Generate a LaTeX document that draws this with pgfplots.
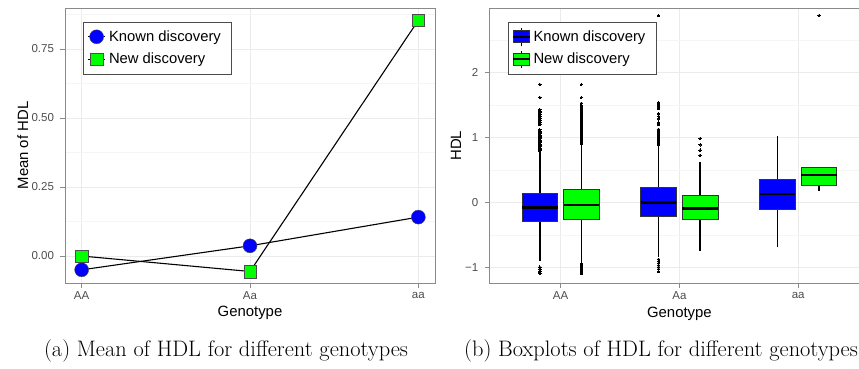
\documentclass[border=0pt]{standalone}
\usepackage{pgfplots}
\pgfplotsset{compat=1.18}
\usepgfplotslibrary{statistics}
\usepackage{fontspec}
\newfontfamily\sansf{Liberation Sans}
\definecolor{tickgray}{HTML}{4D4D4D}
\definecolor{bordergray}{HTML}{8A8A8A}
\definecolor{gridmaj}{HTML}{EBEBEB}
\definecolor{gridmin}{HTML}{F5F5F5}
\pgfplotsset{
  ggstyle/.style={
    scale only axis,
    axis line style={bordergray, line width=0.9pt},
    tick style={bordergray, line width=0.9pt},
    major tick length=4.5pt,
    tick align=outside,
    xtick pos=bottom, ytick pos=left,
    grid=both,
    major grid style={gridmaj, line width=0.9pt},
    minor grid style={gridmin, line width=0.6pt},
    minor tick length=0pt,
    tick label style={font=\fontsize{11.5}{13}\sansf, text=tickgray},
    xticklabel style={anchor=center, yshift=-8pt},
    yticklabel style={anchor=east, xshift=-3pt},
    /pgf/number format/assume math mode=true,
    legend cell align=left,
    legend style={draw=black!70, line width=0.8pt, font=\fontsize{14.8}{17}\sansf,
      anchor=north west, inner xsep=3.5pt, inner ysep=4pt, row sep=1pt,
      nodes={inner xsep=3pt, inner ysep=4.6pt}},
  }
}
\begin{document}
\begin{tikzpicture}
% ---------- (a) means ----------
\begin{axis}[ggstyle,
  at={(65pt,360pt)}, anchor=north west,
  width=370pt, height=275pt,
  xmin=-0.099, xmax=2.099, ymin=-0.0978, ymax=0.8986,
  xtick={0,1,2}, xticklabels={AA,Aa,aa},
  ytick={0,0.25,0.5,0.75}, yticklabels={0.00,0.25,0.50,0.75},
  minor ytick={0.125,0.375,0.625,0.875},
  xlabel={Genotype}, ylabel={Mean of HDL},
  every axis x label/.style={at={(axis description cs:0.5,-0.1102)}, anchor=center, font=\fontsize{14.9}{17}\sansf},
  every axis y label/.style={at={(axis description cs:-0.1143,0.5)}, anchor=center, rotate=90, font=\fontsize{14.9}{17}\sansf},
  legend style={at={(axis description cs:0.0495,0.9502)}},
  legend image code/.code={\draw[mark repeat=2, mark phase=2, #1] plot coordinates {(0pt,0pt) (8.85pt,0pt) (17.7pt,0pt)};},
]
\addplot[black, line width=1.1pt, mark=*, mark size=7pt,
  mark options={fill=blue, draw=black!70, line width=0.4pt}]
  coordinates {(0,-0.050) (1,0.037) (2,0.141)};
\addlegendentry{\makebox[116pt][l]{Known discovery}}
\addplot[black, line width=1.1pt, mark=square*, mark size=6.3pt,
  mark options={fill=green, draw=black!70, line width=0.4pt}]
  coordinates {(0,0.000) (1,-0.056) (2,0.854)};
\addlegendentry{\makebox[116pt][l]{New discovery}}
\end{axis}
% ---------- (b) boxplots ----------
\begin{axis}[ggstyle,
  at={(489.3pt,359.7pt)}, anchor=north west,
  width=380.2pt, height=275pt,
  xmin=-0.6, xmax=2.6, ymin=-1.24, ymax=2.99,
  xtick={0,1,2}, xticklabels={AA,Aa,aa},
  ytick={-1,0,1,2}, yticklabels={−1,0,1,2},
  minor ytick={-0.5,0.5,1.5,2.5},
  xlabel={Genotype}, ylabel={HDL},
  every axis x label/.style={at={(axis description cs:0.5,-0.1102)}, anchor=center, font=\fontsize{14.9}{17}\sansf},
  every axis y label/.style={at={(axis description cs:-0.0876,0.5)}, anchor=center, rotate=90, font=\fontsize{14.9}{17}\sansf},
  legend style={at={(axis description cs:0.0500,0.9513)}},
  boxplot/draw direction=y,
  boxplot/every whisker/.style={black, line width=1.5pt},
  boxplot/every median/.style={black, line width=2.4pt},
  boxplot/whisker extend=0,
]
\addlegendimage{legend image code/.code={
  \draw[black, line width=1pt] (8.35pt,-8.7pt) -- (8.35pt,8.7pt);
  \draw[fill=blue, draw=black!80, line width=0.9pt] (0pt,-6pt) rectangle (16.7pt,6pt);
  \draw[black, line width=1.6pt] (0pt,0pt) -- (16.7pt,0pt);}}
\addlegendentry{\makebox[116pt][l]{Known discovery}}
\addlegendimage{legend image code/.code={
  \draw[black, line width=1pt] (8.35pt,-8.7pt) -- (8.35pt,8.7pt);
  \draw[fill=green, draw=black!80, line width=0.9pt] (0pt,-6pt) rectangle (16.7pt,6pt);
  \draw[black, line width=1.6pt] (0pt,0pt) -- (16.7pt,0pt);}}
\addlegendentry{\makebox[116pt][l]{New discovery}}
% AA known
\addplot[forget plot, fill=blue, draw=black!80, line width=0.9pt,
  mark=*, mark size=1.2pt, mark options={black, fill=black, line width=0pt},
  boxplot prepared={draw position=-0.175, box extend=0.3,
    lower whisker=-0.897, lower quartile=-0.292, median=-0.077,
    upper quartile=0.144, upper whisker=0.785}]
  table[row sep=\\, y index=0] {data\\
  0.80\\ 0.82\\ 0.84\\ 0.86\\ 0.88\\ 0.90\\ 0.92\\ 0.94\\ 0.96\\ 0.98\\ 1.00\\
  1.02\\ 1.04\\ 1.06\\ 1.08\\ 1.10\\ 1.12\\ 1.20\\ 1.23\\ 1.26\\ 1.29\\ 1.32\\
  1.35\\ 1.38\\ 1.41\\ 1.43\\ 1.62\\ 1.82\\
  -0.99\\ -1.02\\ -1.06\\ -1.09\\};
% AA new
\addplot[forget plot, fill=green, draw=black!80, line width=0.9pt,
  mark=*, mark size=1.2pt, mark options={black, fill=black, line width=0pt},
  boxplot prepared={draw position=0.175, box extend=0.3,
    lower whisker=-0.93, lower quartile=-0.251, median=-0.036,
    upper quartile=0.21, upper whisker=0.888}]
  table[row sep=\\, y index=0] {data\\
  0.90\\ 0.92\\ 0.94\\ 0.96\\ 0.98\\ 1.00\\ 1.02\\ 1.04\\ 1.06\\ 1.08\\ 1.10\\
  1.12\\ 1.14\\ 1.16\\ 1.18\\ 1.20\\ 1.22\\ 1.24\\ 1.26\\ 1.28\\ 1.30\\ 1.32\\
  1.34\\ 1.36\\ 1.38\\ 1.40\\ 1.42\\ 1.44\\ 1.46\\ 1.48\\ 1.50\\ 1.53\\ 1.62\\ 1.82\\
  -0.94\\ -0.97\\ -1.00\\ -1.03\\ -1.06\\ -1.09\\};
% Aa known
\addplot[forget plot, fill=blue, draw=black!80, line width=0.9pt,
  mark=*, mark size=1.2pt, mark options={black, fill=black, line width=0pt},
  boxplot prepared={draw position=0.825, box extend=0.3,
    lower whisker=-0.83, lower quartile=-0.205, median=0.0,
    upper quartile=0.231, upper whisker=0.872}]
  table[row sep=\\, y index=0] {data\\
  0.89\\ 0.91\\ 0.93\\ 0.95\\ 0.97\\ 0.99\\ 1.01\\ 1.03\\ 1.05\\ 1.07\\ 1.09\\
  1.11\\ 1.13\\ 1.20\\ 1.23\\ 1.29\\ 1.33\\ 1.37\\ 1.45\\ 1.48\\ 1.51\\ 1.54\\ 2.88\\
  -0.87\\ -0.90\\ -0.93\\ -0.96\\ -0.99\\ -1.02\\ -1.06\\};
% Aa new
\addplot[forget plot, fill=green, draw=black!80, line width=0.9pt,
  mark=*, mark size=1.2pt, mark options={black, fill=black, line width=0pt},
  boxplot prepared={draw position=1.175, box extend=0.3,
    lower whisker=-0.738, lower quartile=-0.251, median=-0.087,
    upper quartile=0.118, upper whisker=0.63}]
  table[row sep=\\, y index=0] {data\\
  0.73\\ 0.81\\ 0.89\\ 0.99\\};
% aa known
\addplot[forget plot, fill=blue, draw=black!80, line width=0.9pt,
  mark=*, mark size=1.2pt, mark options={black, fill=black, line width=0pt},
  boxplot prepared={draw position=1.825, box extend=0.3,
    lower whisker=-0.687, lower quartile=-0.103, median=0.133,
    upper quartile=0.364, upper whisker=1.026}]
  coordinates {};
% aa new
\addplot[forget plot, fill=green, draw=black!80, line width=0.9pt,
  mark=*, mark size=1.2pt, mark options={black, fill=black, line width=0pt},
  boxplot prepared={draw position=2.175, box extend=0.3,
    lower whisker=0.18, lower quartile=0.262, median=0.426,
    upper quartile=0.538, upper whisker=0.538}]
  table[row sep=\\, y index=0] {data\\
  2.88\\};
\end{axis}
% captions
\node[anchor=base, font=\fontsize{22.4}{26}\selectfont] at (226pt,11.3pt) {(a) Mean of HDL for different genotypes};
\node[anchor=base, font=\fontsize{22.4}{26}\selectfont] at (661pt,11.3pt) {(b) Boxplots of HDL for different genotypes};
\pgfresetboundingbox
\useasboundingbox (0pt,0pt) rectangle (859pt,368pt);
\end{tikzpicture}
\end{document}
